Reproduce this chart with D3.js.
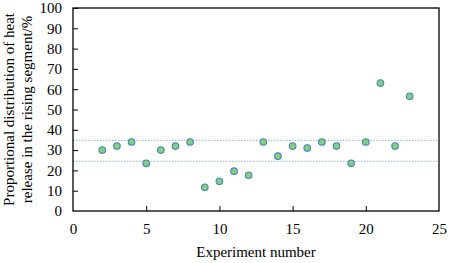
<!DOCTYPE html>
<html><head><meta charset="utf-8">
<script src="https://d3js.org/d3.v7.min.js"></script>
<style>body{margin:0;background:#fff}svg{display:block}</style>
</head><body>
<script>
const experiments = [2,3,4,5,6,7,8,9,10,11,12,13,14,15,16,17,18,19,20,21,22,23];
const proportions = [30,32,34,23.5,30,32,34,11.7,14.6,19.6,17.6,34,27,32,31,34,32,23.5,34,63,32,56.5];
const refLines = [34.8, 24.5];
const xTicks = [0,5,10,15,20,25];
const yTicks = [0,10,20,30,40,50,60,70,80,90,100];

const FONT = "'Times New Roman', 'Liberation Serif', 'DejaVu Serif', serif";
const W=449,H=263;
const m={l:73,r:10,t:8,b:52};
const svg=d3.select("body").append("svg").attr("width",W).attr("height",H)
  .attr("font-family",FONT);
const x=d3.scaleLinear().domain([0,25]).range([m.l,W-m.r]);
const y=d3.scaleLinear().domain([0,100]).range([H-m.b,m.t]);

svg.selectAll("line.ref").data(refLines).enter().append("line")
  .attr("x1",x(0)).attr("x2",x(25)).attr("y1",d=>y(d)).attr("y2",d=>y(d))
  .attr("stroke","#8eb4e3").attr("stroke-width",1).attr("stroke-dasharray","1.5,1.5");

svg.append("rect").attr("x",x(0)).attr("y",y(100)).attr("width",x(25)-x(0)).attr("height",y(0)-y(100))
  .attr("fill","none").attr("stroke","#000").attr("stroke-width",1.3);

const xa=svg.append("g").attr("transform",`translate(0,${y(0)})`)
  .call(d3.axisBottom(x).tickValues(xTicks).tickSizeInner(-5).tickSizeOuter(0).tickPadding(12));
const ya=svg.append("g").attr("transform",`translate(${x(0)},0)`)
  .call(d3.axisLeft(y).tickValues(yTicks).tickSizeInner(-5).tickSizeOuter(0).tickPadding(11));
[xa,ya].forEach(a=>{a.attr("font-family",FONT).attr("font-size",15);
  a.select(".domain").remove();a.selectAll("line").attr("stroke","#000").attr("stroke-width",1);
  a.selectAll("text").attr("fill","#000");});
ya.selectAll(".tick").filter(d=>d===0).select("line").remove();
xa.selectAll(".tick").filter(d=>d===0||d===25).select("line").remove();

svg.selectAll("circle").data(experiments).enter().append("circle")
  .attr("cx",d=>x(d)).attr("cy",(d,i)=>y(proportions[i])).attr("r",3.3)
  .attr("fill","#7fd17f").attr("stroke","#4f81bd").attr("stroke-width",1.1);

svg.append("text").attr("x",(x(0)+x(25))/2).attr("y",257).attr("text-anchor","middle")
  .attr("font-size",15).text("Experiment number");
const ty=(y(0)+y(100))/2;
svg.append("text").attr("transform",`translate(14,${ty}) rotate(-90)`).attr("text-anchor","middle")
  .attr("font-size",15).text("Proportional distribution of heat");
svg.append("text").attr("transform",`translate(32,${ty}) rotate(-90)`).attr("text-anchor","middle")
  .attr("font-size",15).text("release in the rising segment/%");
</script>
</body></html>
